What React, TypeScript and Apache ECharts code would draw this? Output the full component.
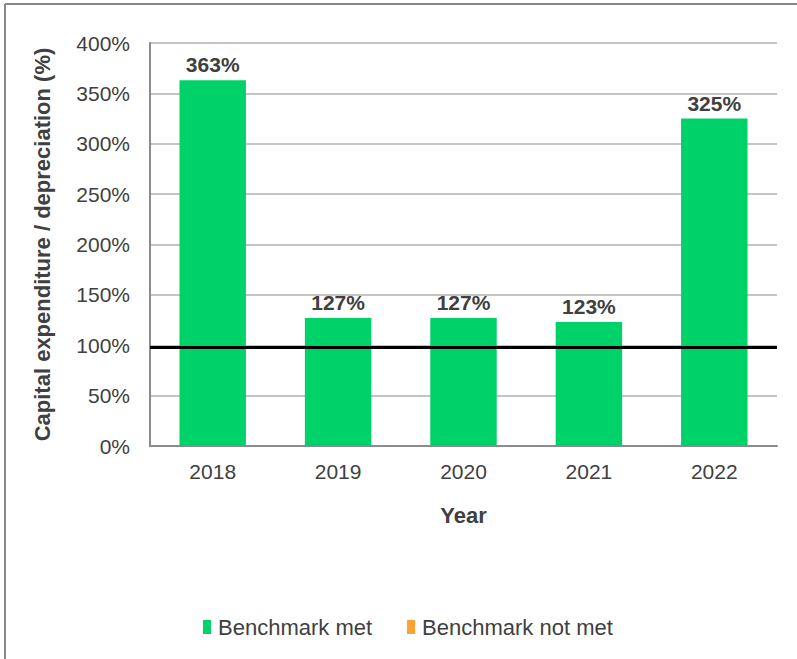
import React, { useEffect, useRef } from "react";
import * as echarts from "echarts";

const years = ["2018", "2019", "2020", "2021", "2022"];
const metValues = [363, 127, 127, 123, 325];
const notMetValues: (number | null)[] = [null, null, null, null, null];
const benchmark = 98;
const yTicks = { min: 0, max: 400, interval: 50 };

const FONT = "'Liberation Sans', Arial, sans-serif";
const TXT = "#404040";

export default function App() {
  const ref = useRef<HTMLDivElement>(null);
  useEffect(() => {
    if (!ref.current) return;
    const chart = echarts.init(ref.current, undefined, { renderer: "svg" });
    chart.setOption({
      animation: false,
      backgroundColor: "#ffffff",
      textStyle: { fontFamily: FONT },
      grid: { left: 150, right: 20, top: 43, bottom: 213 },
      legend: {
        top: 611,
        left: 198,
        itemWidth: 8,
        itemHeight: 14,
        itemGap: 35,
        icon: "rect",
        textStyle: { fontSize: 22, color: TXT, fontFamily: FONT, padding: [0, 0, 0, 2] },
        data: ["Benchmark met", "Benchmark not met"],
      },
      graphic: [
        { type: "line", shape: { x1: 5, y1: 4, x2: 797, y2: 4 }, style: { stroke: "#888", lineWidth: 2 } },
        { type: "line", shape: { x1: 5, y1: 4, x2: 5, y2: 659 }, style: { stroke: "#888", lineWidth: 2 } },
      ],
      xAxis: {
        type: "category",
        data: years,
        name: "Year",
        nameLocation: "middle",
        nameGap: 58,
        nameTextStyle: { fontSize: 22, fontWeight: "bold", color: TXT, fontFamily: FONT },
        axisLine: { lineStyle: { color: "#8c8c8c", width: 2 } },
        axisTick: { show: false },
        axisLabel: { fontSize: 21, color: TXT, margin: 15, fontFamily: FONT },
      },
      yAxis: {
        type: "value",
        min: yTicks.min,
        max: yTicks.max,
        interval: yTicks.interval,
        name: "Capital expenditure / depreciation (%)",
        nameLocation: "middle",
        nameGap: 97,
        nameTextStyle: { fontSize: 22, fontWeight: "bold", color: TXT, fontFamily: FONT },
        axisLine: { show: true, lineStyle: { color: "#8c8c8c", width: 2 } },
        axisTick: { show: false },
        axisLabel: { fontSize: 21, color: TXT, margin: 20, formatter: "{value}%", fontFamily: FONT },
        splitLine: { lineStyle: { color: "#c4c4c4", width: 2 } },
      },
      series: [
        {
          name: "Benchmark met",
          type: "bar",
          stack: "s",
          data: metValues,
          barWidth: "53%",
          itemStyle: { color: "#00d26a" },
          label: {
            show: true,
            position: "top",
            distance: 5,
            formatter: "{c}%",
            fontSize: 21,
            fontWeight: "bold",
            color: TXT,
            fontFamily: FONT,
          },
          markLine: {
            symbol: "none",
            silent: true,
            label: { show: false },
            lineStyle: { color: "#000", width: 3, type: "solid" },
            data: [{ yAxis: benchmark }],
          },
        },
        {
          name: "Benchmark not met",
          type: "bar",
          stack: "s",
          data: notMetValues,
          itemStyle: { color: "#ffa033" },
        },
      ],
    });
    return () => chart.dispose();
  }, []);
  return (
    <div
      ref={ref}
      style={{ position: "fixed", left: 0, top: 0, width: 797, height: 659 }}
    />
  );
}
